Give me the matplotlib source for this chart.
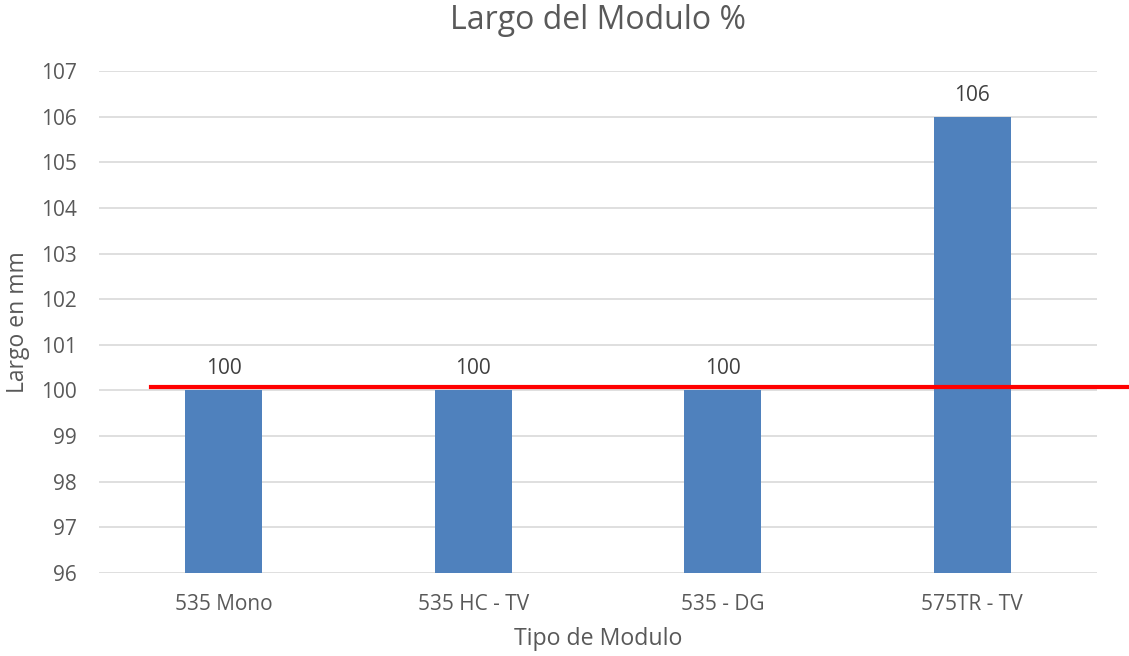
import matplotlib.pyplot as plt
import numpy as np

categorias = ['535 Mono', '535 HC - TV', '535 - DG', '575TR - TV']
largo = [100, 100, 100, 106]
referencia = 100.07

gris = '#595959'
plt.rcParams['font.family'] = ['Open Sans', 'DejaVu Sans']

fig = plt.figure(figsize=(11.29, 6.56), dpi=100)
ax = fig.add_axes([0.0877, 0.1265, 0.884, 0.7653])

x = np.arange(len(categorias))
barras = ax.bar(x, largo, width=0.31, bottom=0, color='#4f81bd', zorder=2)
ax.bar_label(barras, labels=[f'{v}' for v in largo], padding=8,
             fontsize=15, color='#404040')

ax.set_xlim(-0.5, len(categorias) - 0.5)
ax.set_ylim(96, 107)
ax.set_yticks(range(96, 108))
ax.set_xticks(x)
ax.set_xticklabels(categorias)
ax.tick_params(length=0, labelsize=15, colors=gris)
ax.tick_params(axis='x', pad=15)
ax.tick_params(axis='y', pad=16)
ax.grid(axis='y', color='#d9d9d9', linewidth=1.2, zorder=0)
for s in ax.spines.values():
    s.set_visible(False)

# linea de referencia roja, se sale del area de la grafica
ax.plot([-0.29, 4.13], [referencia, referencia], color='red', linewidth=3,
        clip_on=False, zorder=3)

ax.set_xlabel('Tipo de Modulo', fontsize=16.7, color=gris, labelpad=9)
ax.set_ylabel('Largo en mm', fontsize=16.5, color=gris, labelpad=8)
ax.set_title('Largo del Modulo %', fontsize=23, color=gris, pad=30)

fig.savefig('out.png', dpi=100)
